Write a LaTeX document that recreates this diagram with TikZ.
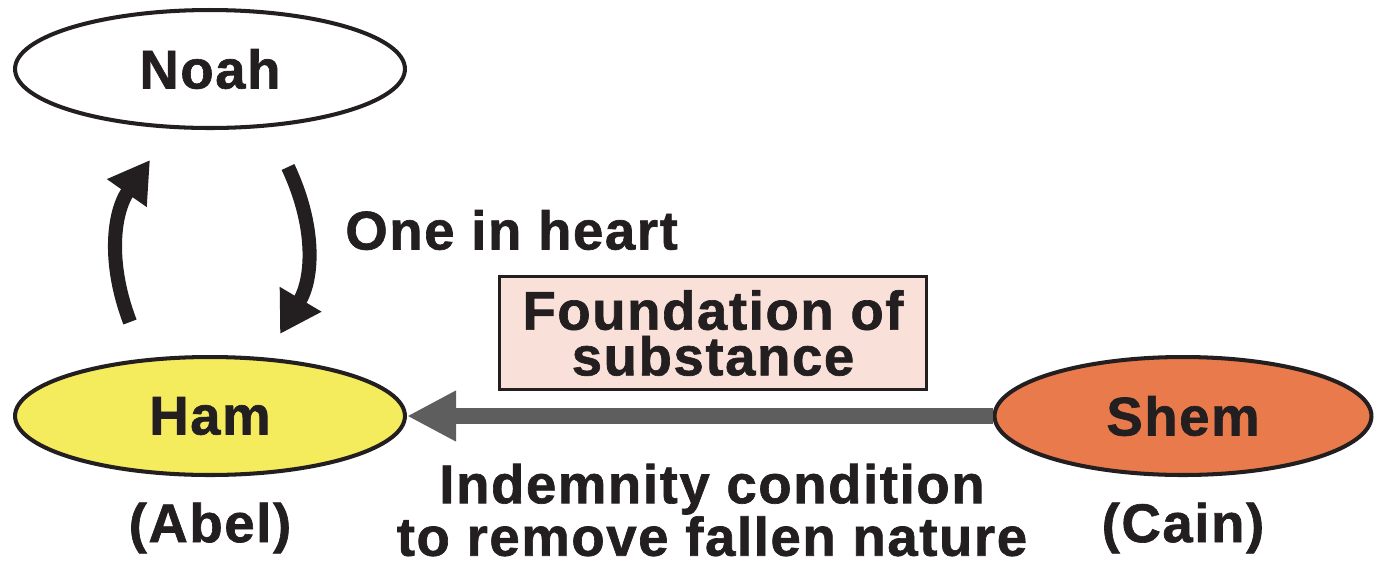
\documentclass[tikz,border=0pt]{standalone}
\usepackage{fontspec}
\setmainfont{Liberation Sans}[LetterSpace=3, BoldFeatures={FakeBold=1.2}]
\usetikzlibrary{arrows.meta,positioning,calc,shapes.geometric}
\definecolor{hamyellow}{HTML}{F4EC5C}
\definecolor{shemorange}{HTML}{E97A4B}
\definecolor{boxpink}{HTML}{F9E1D9}
\definecolor{inkblack}{HTML}{231F20}
\definecolor{shaftgray}{HTML}{5E5E5E}

\begin{document}
\begin{tikzpicture}[
  x=0.02cm, y=-0.02cm,
  font=\fontsize{31pt}{26pt}\selectfont\bfseries,
  text=inkblack,
  person/.style={
    draw=inkblack, ellipse, line width=2.3pt,
    minimum width=7.8cm, minimum height=2.36cm, inner sep=0pt
  },
  fbox/.style={
    draw=inkblack, line width=1.7pt, fill=boxpink, align=center,
    minimum width=8.54cm, minimum height=2.26cm
  },
  caption/.style={align=center, inner sep=0pt},
  turn/.style={line width=8pt, draw=inkblack,
    -{Triangle[length=23pt,width=26pt]}},
  cond/.style={line width=9pt, draw=shaftgray,
    -{Triangle[length=28pt,width=27pt]}}
]
  \useasboundingbox (0,0) rectangle (1377,566);

  % The three persons
  \node[person, fill=hamyellow] (ham) at (210,416) {Ham};
  \node[person] (noah) at (210,69) {Noah};
  \node[person, fill=shemorange, minimum width=7.54cm] (shem) at (1183,416) {Shem};

  \node[caption] (abel) at (210,528) {(Abel)};
  \node[caption] (cain) at (1183,528) {(Cain)};

  % Noah and Ham united
  \coordinate (up0) at ($(ham.north)+(-80,-33)$);
  \coordinate (up1) at ($(noah.south)+(-60,30)$);
  \coordinate (dn0) at ($(noah.south)+(78,37)$);
  \coordinate (dn1) at ($(ham.north)+(70,-21)$);
  \draw[turn] (up0) to[bend left=28] (up1);
  \draw[turn] (dn0) to[bend left=28] (dn1);
  \node[caption, anchor=west] (heart) at (345,230) {One in heart};

  % Foundation of substance
  \draw[cond] (shem.west) -- (ham.east);
  \node[fbox] (found) at (713,333) {Foundation of\\substance};
  \node[caption] (indem) at (712,510) {Indemnity condition\\to remove fallen nature};

\end{tikzpicture}
\end{document}
